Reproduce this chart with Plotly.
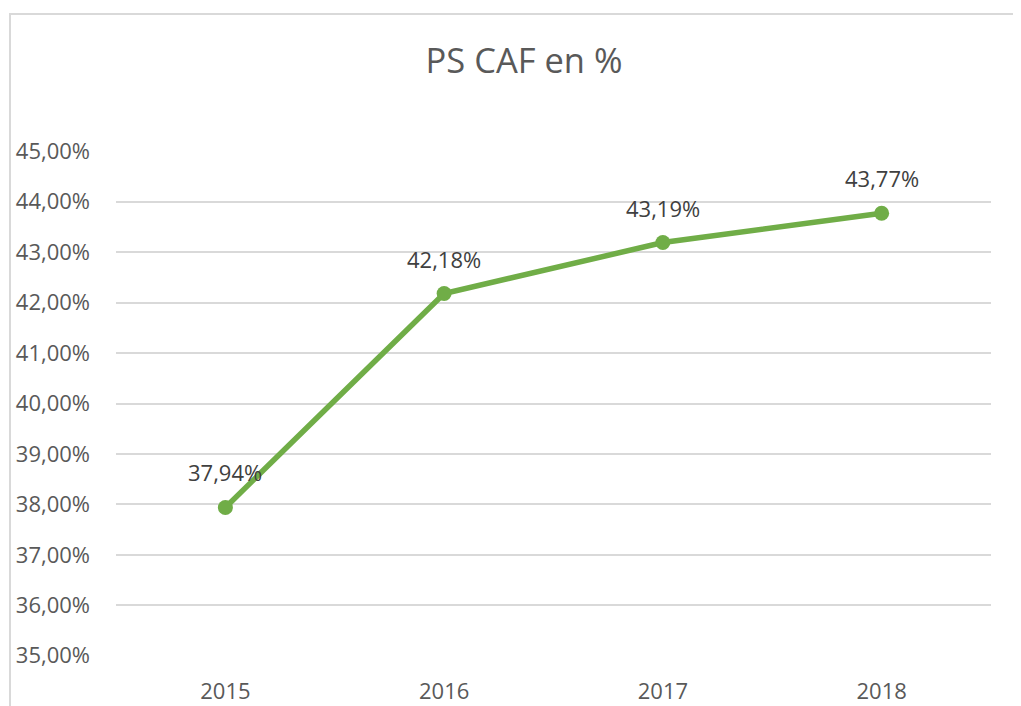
import plotly.graph_objects as go

years = ["2015", "2016", "2017", "2018"]
values = [37.94, 42.18, 43.19, 43.77]
labels = ["37,94%", "42,18%", "43,19%", "43,77%"]
y_ticks = [35, 36, 37, 38, 39, 40, 41, 42, 43, 44, 45]
y_tick_text = ["35,00%", "36,00%", "37,00%", "38,00%", "39,00%", "40,00%",
               "41,00%", "42,00%", "43,00%", "44,00%", "45,00%"]

# the browser's default 8px body margin offsets the figure
OFF = 8
W, H = 1021 - OFF, 706 - OFF
L, R, T, B = 116 - OFF, 30, 151 - OFF, 50
pw, ph = W - L - R, H - T - B

FONT = "Open Sans"
fig = go.Figure()
fig.add_trace(go.Scatter(
    x=years, y=values, mode="lines+markers",
    line=dict(color="#70AD47", width=5.5),
    marker=dict(color="#70AD47", size=15),
    hoverinfo="skip", showlegend=False,
))
for i, (yv, t) in enumerate(zip(values, labels)):
    fig.add_annotation(x=i, y=yv, text=t, showarrow=False, yshift=35,
                       xanchor="center", yanchor="middle",
                       font=dict(family=FONT, size=22, color="#404040"))

fig.add_shape(type="rect", xref="paper", yref="paper",
              x0=(2 - L) / pw, x1=(1100 - L) / pw,
              y0=(H - B - 800) / ph, y1=(H - B - 6) / ph,
              line=dict(color="#D9D9D9", width=2), fillcolor="rgba(0,0,0,0)", layer="below")

fig.update_layout(
    template="none",
    width=W, height=H,
    margin=dict(l=L, r=R, t=T, b=B, pad=0, autoexpand=False),
    paper_bgcolor="white", plot_bgcolor="white",
    title=dict(text="PS CAF en %", x=(524 - OFF) / W, xanchor="center",
               y=1 - (61 - OFF) / H, yanchor="middle",
               font=dict(family=FONT, size=34.5, color="#595959")),
    xaxis=dict(type="category", range=[-0.5, 3.5], showgrid=False, showline=False,
               automargin=False, zeroline=False,
               ticks="", tickfont=dict(family=FONT, size=22, color="#595959"),
               ticklabelstandoff=20),
    yaxis=dict(range=[34.995, 45.005], tickvals=y_ticks, ticktext=y_tick_text,
               automargin=False,
               showgrid=True, gridcolor="#D9D9D9", gridwidth=1.5, zeroline=False,
               showline=False, ticks="", ticklabelstandoff=25,
               tickfont=dict(family=FONT, size=22, color="#595959")),
)
fig.write_html("out.html")
